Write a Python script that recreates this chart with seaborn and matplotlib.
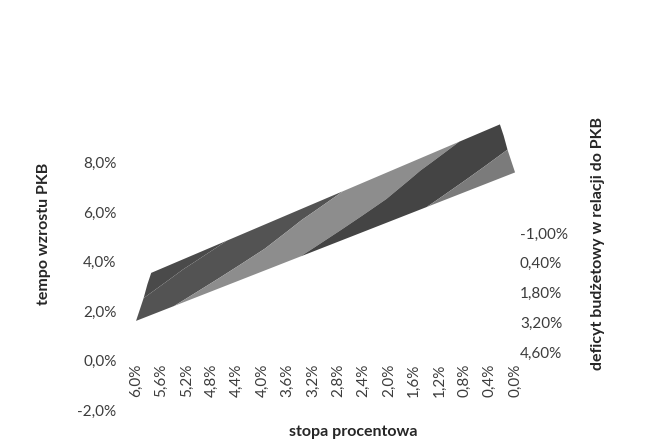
import numpy as np
import matplotlib
matplotlib.use("Agg")
import matplotlib.pyplot as plt
import seaborn as sns

# Category axis: interest rate (stopa procentowa)
interest_rates = ["6,0%", "5,6%", "5,2%", "4,8%", "4,4%", "4,0%", "3,6%", "3,2%",
                  "2,8%", "2,4%", "2,0%", "1,6%", "1,2%", "0,8%", "0,4%", "0,0%"]

# Depth axis: budget deficit relative to GDP, listed front to back
deficit_labels = ["4,60%", "3,20%", "1,80%", "0,40%", "-1,00%"]

# GDP growth (%) for each deficit level across the interest-rate categories
growth_def_460 = [1.4, 1.8, 2.2, 2.6, 3.0, 3.4, 3.8, 4.2, 4.6, 5.0, 5.4, 5.8, 6.2, 6.6, 7.0, 7.4]
growth_def_320 = [0.7, 1.1, 1.5, 1.9, 2.3, 2.7, 3.1, 3.5, 3.9, 4.3, 4.7, 5.1, 5.5, 5.9, 6.3, 6.7]
growth_def_180 = [0.0, 0.4, 0.8, 1.2, 1.6, 2.0, 2.4, 2.8, 3.2, 3.6, 4.0, 4.4, 4.8, 5.2, 5.6, 6.0]
growth_def_040 = [-0.6, -0.2, 0.2, 0.6, 1.0, 1.4, 1.8, 2.2, 2.6, 3.0, 3.4, 3.8, 4.2, 4.6, 5.0, 5.4]
growth_def_m100 = [-1.3, -0.9, -0.5, -0.1, 0.3, 0.7, 1.1, 1.5, 1.9, 2.3, 2.7, 3.1, 3.5, 3.9, 4.3, 4.7]

# Value axis ticks and colour bands of the surface
value_ticks = [-2, 0, 2, 4, 6, 8]
value_tick_labels = ["-2,0%", "0,0%", "2,0%", "4,0%", "6,0%", "8,0%"]
band_levels = [-2, 0, 2, 4, 6, 8]
band_colors = ["#4a4a4a", "#535353", "#8d8d8d", "#444444", "#7b7b7b"]

sns.set_theme(style="white")
plt.rcParams["font.family"] = ["Lato", "DejaVu Sans"]

W, H = 645, 448
fig = plt.figure(figsize=(W / 100, H / 100), dpi=100)
fig.patch.set_facecolor("white")

tick_color = "#3c3c3c"
title_color = "#262626"
tick_size = 11
title_size = 11.5

# Main (value) axes: -2% .. 10% vertically
ax = fig.add_axes([123.4 / W, 38 / H, 404.3 / W, 297 / H])
ax.patch.set_alpha(0)

Z = np.array([growth_def_460, growth_def_320, growth_def_180,
              growth_def_040, growth_def_m100])
n_dep, n_cat = Z.shape
U, V = np.meshgrid(np.arange(n_cat), np.arange(n_dep))

# Simple perspective projection of the surface: rows further back are
# lifted and drawn slightly narrower.
centre = (n_cat - 1) / 2
shrink = 1 - 0.02 * V
X = centre + shrink * (U - centre)
Y = Z + 0.2 + 1.16 * V

ax.contourf(X, Y, Z, levels=band_levels, colors=band_colors, antialiased=True)

ax.set_xlim(-0.5, n_cat - 0.5)
ax.set_ylim(-2, 10)
ax.set_xticks([])
ax.set_yticks(value_ticks, labels=value_tick_labels)
ax.tick_params(axis="y", length=0, pad=5, labelsize=tick_size, labelcolor=tick_color)
for s in ax.spines.values():
    s.set_visible(False)
ax.grid(False)

ax.set_ylabel("tempo wzrostu PKB", fontsize=title_size, fontweight="bold",
              color=title_color, va="center")
ax.yaxis.set_label_coords(44 / W, (H - 234) / H, transform=fig.transFigure)
ax.set_xlabel("stopa procentowa", fontsize=title_size, fontweight="bold",
              color=title_color, va="center")
ax.xaxis.set_label_coords(353 / W, (H - 432) / H, transform=fig.transFigure)

# Category labels along the front edge of the floor
cat_ax = ax.secondary_xaxis((410 - 361) / 297)
cat_ax.set_xticks(np.arange(n_cat), labels=interest_rates)
cat_ax.tick_params(length=0, pad=2, labelrotation=90, labelsize=tick_size,
                   labelcolor=tick_color)
for s in cat_ax.spines.values():
    s.set_visible(False)

# Depth axis labels on the right
dep_ax = fig.add_axes([512 / W, (H - 366.9) / H, 1 / W, 148.75 / H])
dep_ax.patch.set_alpha(0)
dep_ax.set_ylim(-0.5, n_dep - 0.5)
dep_ax.set_xticks([])
dep_ax.set_yticks(np.arange(n_dep), labels=deficit_labels)
dep_ax.yaxis.tick_right()
dep_ax.tick_params(axis="y", length=0, pad=5, labelsize=tick_size, labelcolor=tick_color)
for s in dep_ax.spines.values():
    s.set_visible(False)
dep_ax.yaxis.set_label_position("right")
dep_ax.set_ylabel("deficyt budżetowy w relacji do PKB", fontsize=title_size,
                  fontweight="bold", color=title_color, rotation=90)
dep_ax.yaxis.label.set_va("center")
dep_ax.yaxis.set_label_coords(598 / W, (H - 243) / H, transform=fig.transFigure)

fig.savefig("out.png", dpi=100, facecolor="white")
